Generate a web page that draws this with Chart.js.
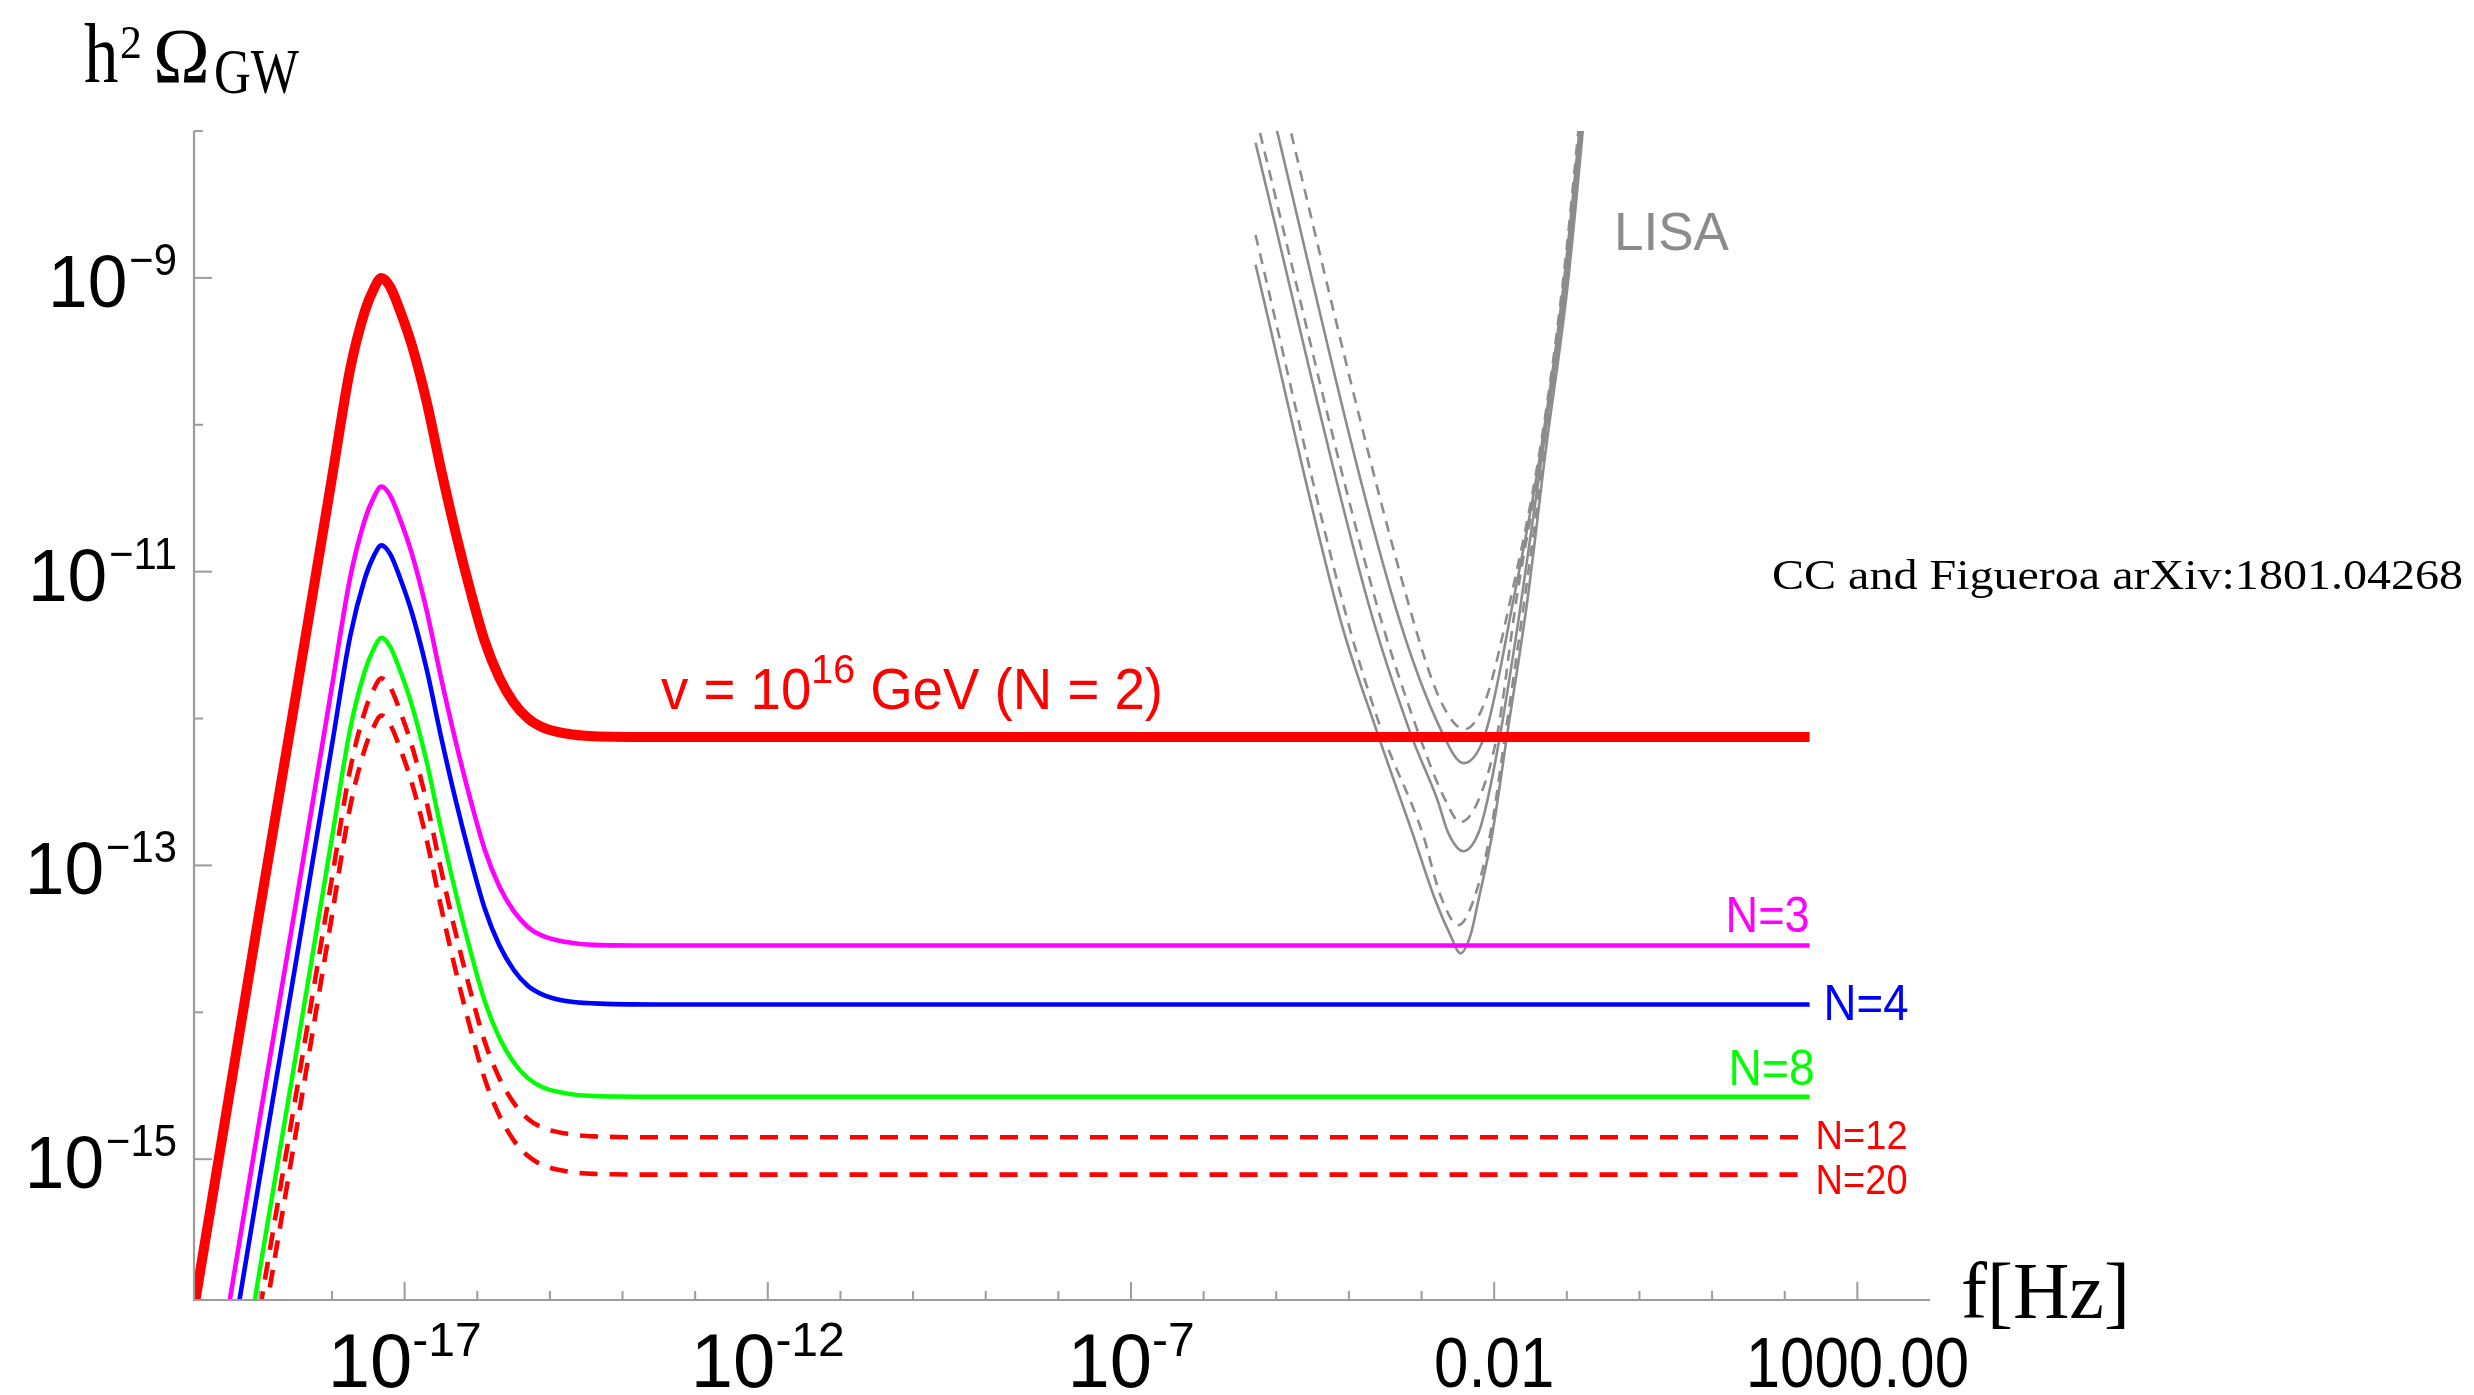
<!DOCTYPE html>
<html><head><meta charset="utf-8">
<script src="https://cdn.jsdelivr.net/npm/chart.js@4.4.1/dist/chart.umd.min.js"></script>
<style>html,body{margin:0;padding:0;background:#fff;overflow:hidden}canvas{display:block}</style>
</head><body>
<canvas id="c" width="2474" height="1395"></canvas>
<script>
// ---- data ----
// frequency grid (Hz) for the cosmic-string spectra
const freqHz = [1e-20, 3.16e-20, 1e-19, 3.16e-19, 1e-18, 1.78e-18, 2.82e-18, 3.8e-18, 4.79e-18, 6.31e-18, 8.91e-18, 1.26e-17, 2.0e-17, 3.16e-17, 5.01e-17, 7.94e-17, 1.26e-16, 2.0e-16, 3.16e-16, 5.01e-16, 7.94e-16, 1.58e-15, 3.98e-15, 3.16e-14, 220];
const omegaN2  = [4.79e-17, 1.51e-15, 4.79e-14, 1.41e-12, 4.37e-11, 2.40e-10, 5.89e-10, 8.51e-10, 1.0e-9, 8.71e-10, 5.75e-10, 3.47e-10, 1.45e-10, 5.01e-11, 1.86e-11, 7.59e-12, 3.39e-12, 1.91e-12, 1.29e-12, 1.0e-12, 8.71e-13, 7.94e-13, 7.59e-13, 7.5e-13, 7.5e-13];
const omegaN3  = [1.82e-18, 5.75e-17, 1.82e-15, 5.37e-14, 1.66e-12, 9.12e-12, 2.24e-11, 3.24e-11, 3.80e-11, 3.31e-11, 2.19e-11, 1.32e-11, 5.50e-12, 1.91e-12, 7.08e-13, 2.88e-13, 1.29e-13, 7.24e-14, 4.90e-14, 3.80e-14, 3.31e-14, 3.02e-14, 2.88e-14, 2.85e-14, 2.85e-14];
const omegaN4  = [7.24e-19, 2.29e-17, 7.24e-16, 2.14e-14, 6.61e-13, 3.63e-12, 8.91e-12, 1.29e-11, 1.51e-11, 1.32e-11, 8.71e-12, 5.25e-12, 2.19e-12, 7.59e-13, 2.82e-13, 1.15e-13, 5.13e-14, 2.88e-14, 1.95e-14, 1.51e-14, 1.32e-14, 1.20e-14, 1.15e-14, 1.13e-14, 1.13e-14];
const omegaN8  = [1.70e-19, 5.37e-18, 1.70e-16, 5.01e-15, 1.55e-13, 8.51e-13, 2.09e-12, 3.02e-12, 3.55e-12, 3.09e-12, 2.04e-12, 1.23e-12, 5.13e-13, 1.78e-13, 6.61e-14, 2.69e-14, 1.20e-14, 6.76e-15, 4.57e-15, 3.55e-15, 3.09e-15, 2.82e-15, 2.69e-15, 2.66e-15, 2.66e-15];
const omegaN12 = [9.02e-20, 2.85e-18, 9.02e-17, 2.66e-15, 8.22e-14, 4.52e-13, 1.11e-12, 1.60e-12, 1.88e-12, 1.64e-12, 1.08e-12, 6.53e-13, 2.72e-13, 9.44e-14, 3.51e-14, 1.43e-14, 6.38e-15, 3.59e-15, 2.43e-15, 1.88e-15, 1.64e-15, 1.50e-15, 1.43e-15, 1.41e-15, 1.41e-15];
const omegaN20 = [5.01e-20, 1.58e-18, 5.01e-17, 1.48e-15, 4.57e-14, 2.51e-13, 6.17e-13, 8.91e-13, 1.05e-12, 9.12e-13, 6.03e-13, 3.63e-13, 1.51e-13, 5.25e-14, 1.95e-14, 7.94e-15, 3.55e-15, 2.0e-15, 1.35e-15, 1.05e-15, 9.12e-16, 8.32e-16, 7.94e-16, 7.85e-16, 7.85e-16];

// LISA sensitivity curves (gray): three solid, three dashed
const lisaSolid1Freq  = [5.18e-6, 4.10e-4, 1.94e-3, 3.78e-3, 7.59e-3, 1.84e-2, 4.34e-2, 8.97e-2, 0.186];
const lisaSolid1Omega = [4.06e-8, 6.41e-12, 7.96e-13, 4.97e-13, 7.96e-13, 6.41e-12, 6.43e-11, 8.69e-10, 3.05e-8];
const lisaDash1Freq   = [5.18e-6, 6.40e-4, 1.82e-3, 3.89e-3, 7.59e-3, 1.67e-2, 4.20e-2, 8.69e-2, 0.180];
const lisaDash1Omega  = [9.75e-8, 6.41e-12, 1.33e-12, 8.47e-13, 1.33e-12, 6.41e-12, 6.43e-11, 8.69e-10, 3.05e-8];
const lisaSolid2Freq  = [5.18e-6, 1.80e-4, 7.03e-4, 1.66e-3, 2.34e-3, 3.78e-3, 6.07e-3, 8.07e-3, 1.22e-2, 2.16e-2, 4.61e-2, 9.55e-2, 0.192];
const lisaSolid2Omega = [8.32e-9, 6.41e-12, 7.96e-13, 2.78e-13, 1.66e-13, 1.25e-13, 1.66e-13, 2.78e-13, 7.96e-13, 4.68e-12, 6.43e-11, 8.69e-10, 3.05e-8];
const lisaDash2Freq   = [5.18e-6, 2.32e-4, 9.06e-4, 2.13e-3, 3.43e-3, 6.07e-3, 1.11e-2, 2.02e-2, 4.47e-2, 9.27e-2, 0.192];
const lisaDash2Omega  = [1.29e-8, 6.41e-12, 7.96e-13, 2.78e-13, 1.97e-13, 2.78e-13, 7.96e-13, 6.41e-12, 6.43e-11, 8.69e-10, 3.05e-8];
const lisaSolid3Freq  = [5.18e-6, 7.66e-5, 2.47e-4, 7.50e-4, 1.55e-3, 2.50e-3, 3.43e-3, 4.71e-3, 6.07e-3, 9.46e-3, 1.52e-2, 2.87e-2, 5.08e-2, 0.102, 0.205];
const lisaSolid3Omega = [1.23e-9, 4.68e-12, 7.96e-13, 1.66e-13, 5.79e-14, 3.34e-14, 2.52e-14, 3.34e-14, 5.79e-14, 1.66e-13, 7.96e-13, 6.41e-12, 6.43e-11, 8.69e-10, 3.05e-8];
const lisaDash3Freq   = [5.18e-6, 9.55e-5, 2.90e-4, 1.03e-3, 1.82e-3, 3.22e-3, 5.19e-3, 8.87e-3, 1.43e-2, 2.61e-2, 4.92e-2, 9.86e-2, 0.199];
const lisaDash3Omega  = [1.96e-9, 4.68e-12, 7.96e-13, 1.66e-13, 6.27e-14, 3.92e-14, 5.79e-14, 1.66e-13, 7.96e-13, 6.41e-12, 6.43e-11, 8.69e-10, 3.05e-8];

// axis ticks
const xTickExps   = [-19, -18, -17, -16, -15, -14, -13, -12, -11, -10, -9, -8, -7, -6, -5, -4, -3, -2, -1, 0, 1, 2, 3];
const xMajorExps  = [-17, -12, -7, -2, 3];
const xTickLabels = [['10', '-17'], ['10', '-12'], ['10', '-7'], ['0.01', ''], ['1000.00', '']];
const yTickExps   = [-15, -14, -13, -12, -11, -10, -9, -8];
const yMajorExps  = [-15, -13, -11, -9];
const seriesNames = ['N = 2', 'N=3', 'N=4', 'N=8', 'N=12', 'N=20'];

// ---- build datasets ----
const pts = (xs, ys) => xs.map((x, i) => ({x: x, y: ys[i]}));
const GRAY = '#8c8c8c';
function lisa(xs, ys, dashed) {
  return {data: pts(xs, ys), borderColor: GRAY, borderWidth: 2.6, borderDash: dashed ? [11, 8] : [], cubicInterpolationMode: 'monotone', clip: 0};
}
const datasets = [
  {label: seriesNames[0], data: pts(freqHz, omegaN2),  borderColor: '#ff0000', borderWidth: 10, cubicInterpolationMode: 'monotone', clip: 0},
  {label: seriesNames[1], data: pts(freqHz, omegaN3),  borderColor: '#ff00ff', borderWidth: 4.6, cubicInterpolationMode: 'monotone', clip: 0},
  {label: seriesNames[2], data: pts(freqHz, omegaN4),  borderColor: '#0000ff', borderWidth: 4.6, cubicInterpolationMode: 'monotone', clip: 0},
  {label: seriesNames[3], data: pts(freqHz, omegaN8),  borderColor: '#00ff00', borderWidth: 4.4, cubicInterpolationMode: 'monotone', clip: 0},
  {label: seriesNames[4], data: pts(freqHz, omegaN12), borderColor: '#ff0000', borderWidth: 4.6, borderDash: [18, 12], cubicInterpolationMode: 'monotone', clip: 0},
  {label: seriesNames[5], data: pts(freqHz, omegaN20), borderColor: '#ff0000', borderWidth: 4.6, borderDash: [18, 12], cubicInterpolationMode: 'monotone', clip: 0},
  lisa(lisaSolid1Freq, lisaSolid1Omega, false),
  lisa(lisaDash1Freq, lisaDash1Omega, true),
  lisa(lisaSolid2Freq, lisaSolid2Omega, false),
  lisa(lisaDash2Freq, lisaDash2Omega, true),
  lisa(lisaSolid3Freq, lisaSolid3Omega, false),
  lisa(lisaDash3Freq, lisaDash3Omega, true)
];

// ---- text helpers ----
function font(px, fam) { return px + 'px ' + fam; }
const SANS = '"Liberation Sans", Arial, sans-serif';
const SERIF = '"Liberation Serif", "Times New Roman", serif';
function textW(ctx, s, f) { ctx.font = f; return ctx.measureText(s).width; }
function draw(ctx, s, x, y, f, color, sx) {
  ctx.save(); ctx.font = f; ctx.fillStyle = color; ctx.textBaseline = 'alphabetic'; ctx.textAlign = 'left';
  ctx.translate(x, y); ctx.scale(sx || 1, 1); ctx.fillText(s, 0, 0); ctx.restore();
}
function drawFit(ctx, s, x, y, f, color, width) {
  const w = textW(ctx, s, f); draw(ctx, s, x, y, f, color, width / w);
}

const decor = {
  id: 'decor',
  afterDraw(chart) {
    const ctx = chart.ctx, xs = chart.scales.x, ys = chart.scales.y, a = chart.chartArea;
    ctx.save();
    // axes
    ctx.strokeStyle = '#9c9c9c'; ctx.lineWidth = 2.2;
    ctx.beginPath(); ctx.moveTo(a.left, a.top); ctx.lineTo(a.left, a.bottom); ctx.lineTo(a.right, a.bottom); ctx.stroke();
    // inward ticks
    ctx.lineWidth = 2;
    xTickExps.forEach(e => {
      const px = xs.getPixelForValue(Math.pow(10, e));
      if (px < a.left + 1 || px > a.right) return;
      const len = xMajorExps.includes(e) ? 18 : 9;
      ctx.beginPath(); ctx.moveTo(px, a.bottom); ctx.lineTo(px, a.bottom - len); ctx.stroke();
    });
    yTickExps.forEach(e => {
      const py = ys.getPixelForValue(Math.pow(10, e));
      if (py > a.bottom - 1 || py < a.top - 1) return;
      const len = yMajorExps.includes(e) ? 18 : 9;
      ctx.beginPath(); ctx.moveTo(a.left, py); ctx.lineTo(a.left + len, py); ctx.stroke();
    });
    ctx.restore();

    // y tick labels 10^-n
    yMajorExps.forEach(e => {
      const py = ys.getPixelForValue(Math.pow(10, e));
      const fb = font(75, SANS), fe = font(44, SANS);
      const exp = '\u2212' + Math.abs(e);
      const sb = 0.95, se = 0.95;
      const wb = textW(ctx, '10', fb) * sb, we = textW(ctx, exp, fe) * se;
      const right = a.left - 17;
      const xe = right - we, xb = xe - 2 - wb;
      draw(ctx, '10', xb, py + 29, fb, '#000', sb);
      draw(ctx, exp, xe, py - 3, fe, '#000', se);
    });
    // x tick labels
    xMajorExps.forEach((e, i) => {
      const px = xs.getPixelForValue(Math.pow(10, e));
      const [b, ex] = xTickLabels[i];
      if (ex) {
        const fb = font(76, SANS), fe = font(48, SANS);
        const wb = textW(ctx, b, fb), we = textW(ctx, ex, fe);
        const x0 = px - (wb + we) / 2;
        draw(ctx, b, x0, 1387, fb, '#000', 1);
        draw(ctx, ex, x0 + wb, 1356, fe, '#000', 1);
      } else {
        const fb = font(71, SANS);
        const w = textW(ctx, b, fb) * 0.87;
        draw(ctx, b, px - w / 2, 1387, fb, '#000', 0.87);
      }
    });

    // axis titles
    draw(ctx, 'h', 84, 82, font(84, SERIF), '#000', 0.82);
    draw(ctx, '2', 120, 58, font(46, SERIF), '#000', 0.95);
    draw(ctx, '\u03A9', 153, 82, font(78, SERIF), '#000', 0.98);
    drawFit(ctx, 'GW', 214, 93, font(64, SERIF), '#000', 85);
    drawFit(ctx, 'f[Hz]', 1961, 1318, font(80, SERIF), '#000', 169);

    // LISA label and credit
    drawFit(ctx, 'LISA', 1614, 250, font(53, SANS), '#8c8c8c', 115);
    drawFit(ctx, 'CC and Figueroa arXiv:1801.04268', 1772, 589, font(42, SERIF), '#000', 691);

    // series labels, anchored to the end of each plateau
    const xEnd = xs.getPixelForValue(freqHz[freqHz.length - 1]);
    const yAt = arr => ys.getPixelForValue(arr[arr.length - 1]);
    {
      const f1 = font(57, SANS), f2 = font(41, SANS);
      const p1 = 'v = 10', p2 = '16', p3 = ' GeV (N = 2)';
      const w1 = textW(ctx, p1, f1), w2 = textW(ctx, p2, f2), w3 = textW(ctx, p3, f1);
      const s = 502 / (w1 + w2 + w3);
      const x0 = 661, yb = yAt(omegaN2) - 28;
      draw(ctx, p1, x0, yb, f1, '#ff0000', s);
      draw(ctx, p2, x0 + w1 * s, yb - 26, f2, '#ff0000', s);
      draw(ctx, p3, x0 + (w1 + w2) * s, yb, f1, '#ff0000', s);
    }
    const lab = (s, f, color, width, x, y) => drawFit(ctx, s, x, y, f, color, width);
    lab('N=3', font(50, SANS), '#ff00ff', 84, xEnd - 84, yAt(omegaN3) - 14);
    lab('N=4', font(50, SANS), '#0000ff', 85, xEnd + 14, yAt(omegaN4) + 15);
    lab('N=8', font(50, SANS), '#00ff00', 86, xEnd - 81, yAt(omegaN8) - 12);
    lab('N=12', font(40, SANS), '#ff0000', 92, xEnd + 6, yAt(omegaN12) + 12);
    lab('N=20', font(42, SANS), '#ff0000', 92, xEnd + 6, yAt(omegaN20) + 19);
  }
};

new Chart(document.getElementById('c'), {
  type: 'line',
  data: {datasets: datasets},
  options: {
    responsive: false,
    animation: false,
    devicePixelRatio: 1,
    layout: {padding: {left: 194, right: 544, top: 131, bottom: 95}},
    plugins: {legend: {display: false}, tooltip: {enabled: false}},
    elements: {point: {radius: 0, hoverRadius: 0}, line: {borderCapStyle: 'butt', borderJoinStyle: 'round'}},
    scales: {
      x: {type: 'logarithmic', min: 1.26e-20, max: 1e4, grid: {display: false}, border: {display: false},
          ticks: {display: false}, afterFit(s) { s.height = 0; }},
      y: {type: 'logarithmic', min: 1.1e-16, max: 1e-8, grid: {display: false}, border: {display: false},
          ticks: {display: false}, afterFit(s) { s.width = 0; }}
    }
  },
  plugins: [decor]
});
</script>
</body></html>
